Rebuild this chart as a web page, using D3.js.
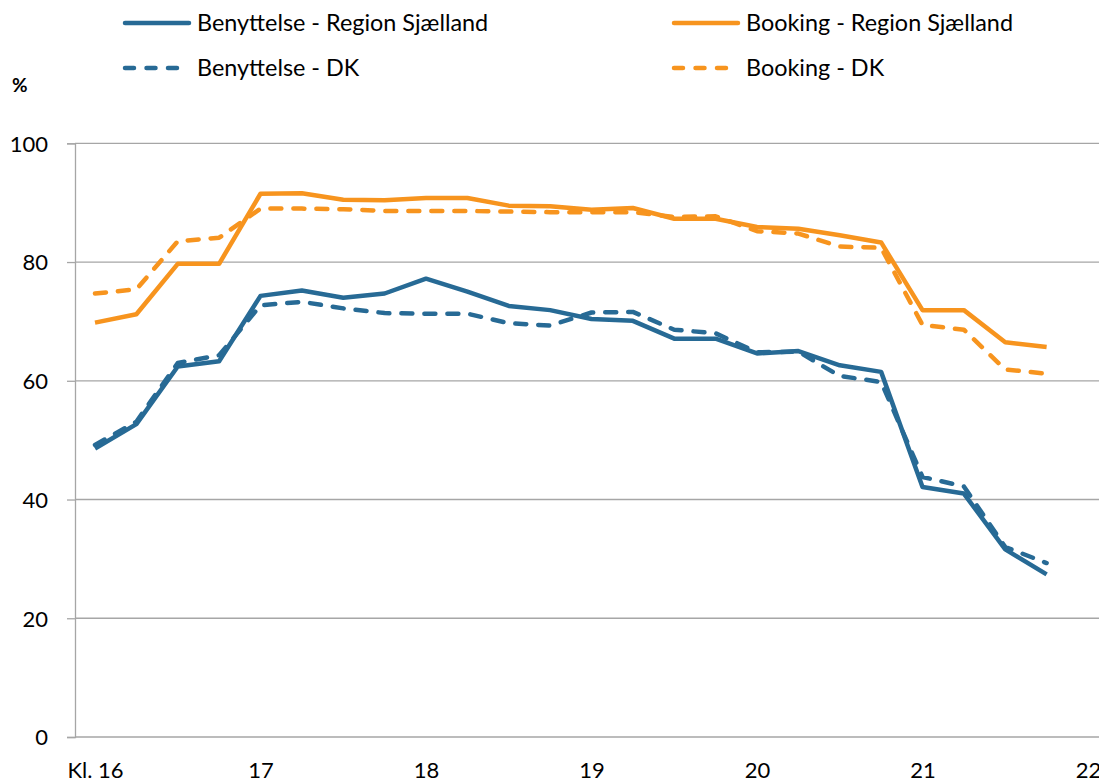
<!DOCTYPE html>
<html><head><meta charset="utf-8">
<script src="https://cdn.jsdelivr.net/npm/d3@7"></script>
<style>body{margin:0;background:#fff}svg{display:block}text{font-family:Lato,"Liberation Sans",sans-serif;fill:#000}</style>
</head><body>
<svg id="c" width="1099" height="783"></svg>
<script>
// Quarter-hour categories 16:00 .. 21:45
const times = ["16:00","16:15","16:30","16:45","17:00","17:15","17:30","17:45","18:00","18:15","18:30","18:45","19:00","19:15","19:30","19:45","20:00","20:15","20:30","20:45","21:00","21:15","21:30","21:45"];
const xTickValues = [16,17,18,19,20,21,22];
const xTickLabels = ["Kl. 16","17","18","19","20","21","22"];
const yTicks = [0,20,40,60,80,100];

const benyttelseRS = [48.6,52.7,62.4,63.3,74.3,75.2,74.0,74.7,77.2,75.0,72.6,71.9,70.4,70.1,67.1,67.1,64.6,65.0,62.6,61.5,42.1,41.0,31.6,27.4];
const benyttelseDK = [49.2,53.1,63.0,64.3,72.7,73.3,72.2,71.4,71.3,71.3,69.7,69.3,71.5,71.6,68.6,68.0,64.8,64.9,60.8,59.8,43.8,42.2,32.0,29.3];
const bookingRS    = [69.8,71.2,79.7,79.7,91.5,91.6,90.5,90.4,90.8,90.8,89.5,89.4,88.8,89.1,87.3,87.3,85.9,85.6,84.5,83.3,71.9,71.9,66.5,65.7];
const bookingDK    = [74.7,75.4,83.5,84.1,89.0,89.0,88.9,88.6,88.6,88.6,88.5,88.4,88.4,88.4,87.6,87.7,85.2,84.8,82.6,82.4,69.4,68.6,61.9,61.2];

const seriesNames = ["Benyttelse - Region Sjælland","Benyttelse - DK","Booking - Region Sjælland","Booking - DK"];
const BLUE = "#276A95", ORANGE = "#F7941E";

const series = [
  {name: seriesNames[0], values: benyttelseRS, color: BLUE, dashed: false},
  {name: seriesNames[1], values: benyttelseDK, color: BLUE, dashed: true},
  {name: seriesNames[2], values: bookingRS, color: ORANGE, dashed: false},
  {name: seriesNames[3], values: bookingDK, color: ORANGE, dashed: true}
];

const svg = d3.select("#c");
const pLeft = 75, pRight = 1099, pTop = 143.3, pBottom = 737;
const x = d3.scaleLinear().domain([16,22]).range([95,1088]);
const y = d3.scaleLinear().domain([0,100]).range([pBottom, pTop]);
const tHour = s => { const [h,m] = s.split(":").map(Number); return h + m/60; };
const FONT = "Lato, 'Liberation Sans', sans-serif";

// gridlines
svg.append("g").selectAll("line").data(yTicks).join("line")
  .attr("x1", pLeft).attr("x2", pRight)
  .attr("y1", d => y(d)).attr("y2", d => y(d))
  .attr("stroke", "#A6A6A6").attr("stroke-width", 1.3);

// y axis
const yAxis = svg.append("g").attr("transform", `translate(${pLeft},0)`)
  .call(d3.axisLeft(y).tickValues(yTicks).tickSize(8).tickPadding(19));
yAxis.select(".domain").attr("stroke", "#A6A6A6").attr("stroke-width", 1.3);
yAxis.selectAll(".tick line").attr("stroke", "#A6A6A6").attr("stroke-width", 1.3);
yAxis.selectAll(".tick text").style("font-size", "22px").style("font-family", FONT).attr("fill", "#000").attr("dy", "0.36em");

// x axis labels
const xAxis = svg.append("g").attr("transform", `translate(0,${pBottom})`)
  .call(d3.axisBottom(x).tickValues(xTickValues).tickSize(0).tickPadding(25).tickFormat((d,i) => xTickLabels[i]));
xAxis.select(".domain").remove();
xAxis.selectAll(".tick text").style("font-size", "22px").style("font-family", FONT).attr("fill", "#000");

// lines
const line = d3.line().x((d,i) => x(tHour(times[i]))).y(d => y(d));
svg.append("g").selectAll("path").data(series).join("path")
  .attr("d", d => line(d.values))
  .attr("fill", "none")
  .attr("stroke", d => d.color)
  .attr("stroke-width", 4.5)
  .attr("stroke-linejoin", "round")
  .attr("stroke-linecap", d => d.dashed ? "round" : "butt")
  .attr("stroke-dasharray", d => d.dashed ? "11,12" : null);

// legend
const legendPos = [[123,23],[123,68],[672,23],[672,68]];
const lg = svg.append("g").selectAll("g").data(series).join("g")
  .attr("transform", (d,i) => `translate(${legendPos[i][0]},${legendPos[i][1]})`);
lg.append("line").attr("x1", 2).attr("x2", 66).attr("y1", 0).attr("y2", 0)
  .attr("stroke", d => d.color).attr("stroke-width", 4.5).attr("stroke-linecap", "round")
  .attr("stroke-dasharray", d => d.dashed ? "9,12.5" : null);
lg.append("text").attr("x", 74).attr("y", 0).attr("dy", "0.35em")
  .style("font-size", "23.4px").text(d => d.name);

// unit label
svg.append("text").attr("x", 12).attr("y", 85).attr("dy", "0.35em")
  .style("font-size", "19px").style("font-weight", "bold").text("%");
</script>
</body></html>
